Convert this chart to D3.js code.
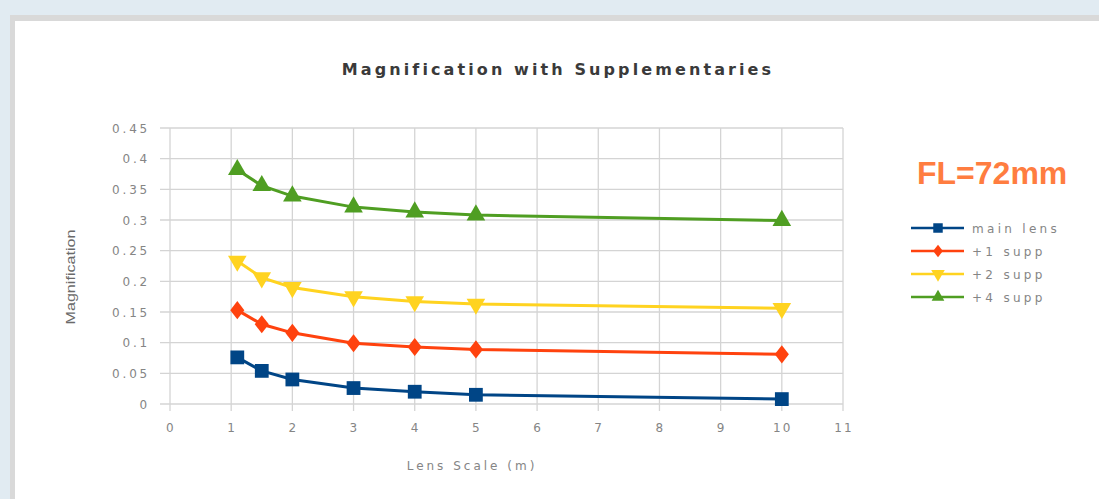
<!DOCTYPE html>
<html><head><meta charset="utf-8">
<script src="https://cdn.jsdelivr.net/npm/d3@7/dist/d3.min.js"></script>
<style>body{margin:0;background:#e1ebf2;overflow:hidden}svg{display:block}</style>
</head><body>
<svg id="c" width="1099" height="499"></svg>
<script>
const xValues = [1.1, 1.5, 2, 3, 4, 5, 10];
const mainLens = [0.076, 0.054, 0.040, 0.026, 0.020, 0.015, 0.008];
const supp1 = [0.153, 0.130, 0.116, 0.099, 0.093, 0.089, 0.081];
const supp2 = [0.233, 0.206, 0.190, 0.175, 0.167, 0.163, 0.156];
const supp4 = [0.382, 0.356, 0.339, 0.321, 0.313, 0.308, 0.299];
const seriesNames = ["main lens", "+1 supp", "+2 supp", "+4 supp"];
const seriesColors = ["#004586", "#ff420e", "#ffd320", "#4f9e22"];
const seriesShapes = [d3.symbolSquare, d3.symbolDiamond, "down", d3.symbolTriangle];
const xTicks = [0,1,2,3,4,5,6,7,8,9,10,11];
const yTicks = [0,0.05,0.1,0.15,0.2,0.25,0.3,0.35,0.4,0.45];
const yTickLabels = ["0","0.05","0.1","0.15","0.2","0.25","0.3","0.35","0.4","0.45"];
const title = "Magnification with Supplementaries";
const xTitle = "Lens Scale (m)";
const yTitle = "Magnification";
const note = "FL=72mm";

const series = [mainLens, supp1, supp2, supp4];
const svg = d3.select("#c");
// frame
svg.append("rect").attr("x",10).attr("y",15).attr("width",1089).attr("height",484).attr("fill","#d9d9d9");
svg.append("rect").attr("x",15).attr("y",21).attr("width",1084).attr("height",478).attr("fill","#fff");

const x = d3.scaleLinear().domain([0,11]).range([170,843]);
const y = d3.scaleLinear().domain([0,0.45]).range([404,128]);

const g = svg.append("g");
// grid
g.selectAll(".hg").data(yTicks).enter().append("line")
  .attr("x1",160).attr("x2",843).attr("y1",d=>y(d)).attr("y2",d=>y(d))
  .attr("stroke","#d4d4d4").attr("stroke-width",1.3);
g.selectAll(".vg").data(xTicks).enter().append("line")
  .attr("y1",128).attr("y2",411).attr("x1",d=>x(d)).attr("x2",d=>x(d))
  .attr("stroke","#d4d4d4").attr("stroke-width",1.3);

const tickFont = "'DejaVu Sans', sans-serif";
const gray = "#858585";
g.selectAll(".yl").data(yTicks).enter().append("text")
  .attr("x",150).attr("y",d=>y(d)+4.5).attr("text-anchor","end")
  .attr("font-family",tickFont).attr("font-size",12).attr("fill",gray)
  .attr("letter-spacing",2.8)
  .text((d,i)=>yTickLabels[i]);
g.selectAll(".xl").data(xTicks).enter().append("text")
  .attr("x",d=>x(d)+1).attr("y",432).attr("text-anchor","middle")
  .attr("font-family",tickFont).attr("font-size",12).attr("fill",gray)
  .attr("letter-spacing",2.2)
  .text(d=>d);

svg.append("text").attr("x",558).attr("y",75).attr("text-anchor","middle")
  .attr("font-family","'DejaVu Sans', sans-serif").attr("font-size",16).attr("font-weight","bold")
  .attr("fill","#3a3a3a").attr("letter-spacing",3.1).text(title);
svg.append("text").attr("x",472).attr("y",470).attr("text-anchor","middle")
  .attr("font-family",tickFont).attr("font-size",12).attr("fill",gray)
  .attr("letter-spacing",3).text(xTitle);
svg.append("text").attr("transform","translate(75,277) rotate(-90)").attr("text-anchor","middle")
  .attr("font-family","'Liberation Sans Narrow', 'Liberation Sans', sans-serif").attr("font-size",12).attr("fill","#6a6a6a")
  .attr("textLength",95).attr("lengthAdjust","spacingAndGlyphs").text(yTitle);

function sym(shape, size){
  if (shape === "down") return d3.symbol().type(d3.symbolTriangle).size(size)();
  return d3.symbol().type(shape).size(size)();
}
function xf(k){
  if (seriesShapes[k]==="down") return " rotate(180)";
  if (seriesShapes[k]===d3.symbolDiamond) return " scale(1.35,1)";
  return "";
}
const sizes = [190, 95, 150, 150];
const line = d3.line().x((d,i)=>x(xValues[i])).y(d=>y(d));
series.forEach((s,k)=>{
  g.append("path").attr("d",line(s)).attr("fill","none")
    .attr("stroke",seriesColors[k]).attr("stroke-width",3);
  g.selectAll(".m"+k).data(s).enter().append("path")
    .attr("d",sym(seriesShapes[k], sizes[k]))
    .attr("transform",(d,i)=>`translate(${x(xValues[i])},${y(d)})` + xf(k))
    .attr("fill",seriesColors[k]);
});

// FL note
svg.append("text").attr("x",917).attr("y",184)
  .attr("font-family","'Liberation Sans', Arial, sans-serif").attr("font-size",32).attr("font-weight","bold")
  .attr("fill","#ff7d40").text(note);

// legend
const lg = svg.append("g");
seriesNames.forEach((n,k)=>{
  const yy = 228 + k*23;
  lg.append("line").attr("x1",911).attr("x2",964).attr("y1",yy).attr("y2",yy)
    .attr("stroke",seriesColors[k]).attr("stroke-width",2.5);
  lg.append("path").attr("d",sym(seriesShapes[k], [90,45,80,70][k]))
    .attr("transform",`translate(938,${yy})`+xf(k))
    .attr("fill",seriesColors[k]);
  lg.append("text").attr("x",972).attr("y",yy+4.5).attr("font-family",tickFont)
    .attr("font-size",12).attr("fill",gray).attr("letter-spacing",3.3).text(n);
});
</script>
</body></html>
